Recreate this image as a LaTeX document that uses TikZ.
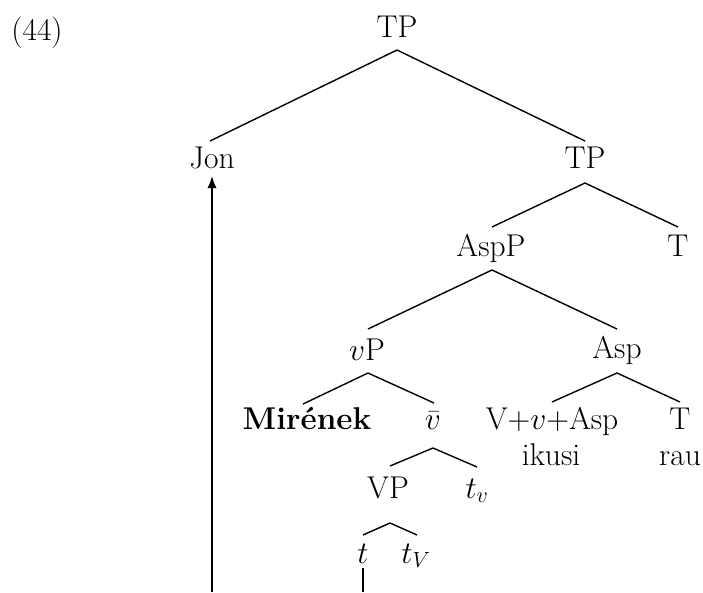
\RequirePackage{fix-cm}
\documentclass[tikz,border=0pt]{standalone}
\usetikzlibrary{arrows.meta}
\begin{document}
\begin{tikzpicture}[x=1pt,y=-1pt,
  every node/.style={font=\fontsize{31.5}{36}\selectfont, inner sep=0pt, anchor=base},
  branch/.style={line width=1.4pt},
  movearrow/.style={line width=1.4pt, -{Latex[length=12pt,width=9pt]}}]
\useasboundingbox (0,0) rectangle (703,592);
% nodes (x = centre, y = baseline, in pixels from the top left)
\node (ex) at (37,40) {(44)};
\node (tp0) at (397,37) {TP};
\node (jon) at (212,168) {Jon};
\node (tp1) at (585,168) {TP};
\node (aspp) at (491,256) {AspP};
\node (t1) at (678,256) {T};
\node (vp) at (367,360) {$v$P};
\node (asp) at (617,358) {Asp};
\node (mir) at (307,429) {\textbf{Mirének}};
\node (vbar) at (433,429) {$\bar{v}$};
\node (vva) at (552,429) {V+$v$+Asp};
\node (t2) at (680,429) {T};
\node (ikusi) at (551,465) {ikusi};
\node (rau) at (680,465) {rau};
\node (vpp) at (388,498) {VP};
\node (tv) at (477,498) {$t_v$};
\node (t) at (363,563) {$t$};
\node (tV) at (416,563) {$t_V$};
\coordinate (arrowfoot) at (212,592);
\coordinate (tfoot) at (363,592);
% branches
\draw[branch] ([yshift=-13pt]tp0.base) -- ([xshift=-2pt,yshift=27pt]jon.base);
\draw[branch] ([yshift=-13pt]tp0.base) -- ([yshift=27pt]tp1.base);
\draw[branch] ([yshift=-15pt]tp1.base) -- ([xshift=1pt,yshift=29pt]aspp.base);
\draw[branch] ([yshift=-15pt]tp1.base) -- ([yshift=29pt]t1.base);
\draw[branch] ([xshift=1pt,yshift=-14pt]aspp.base) -- ([xshift=1pt,yshift=31pt]vp.base);
\draw[branch] ([xshift=1pt,yshift=-14pt]aspp.base) -- ([yshift=29pt]asp.base);
\draw[branch] ([xshift=1pt,yshift=-13pt]vp.base) -- ([xshift=-4pt,yshift=25pt]mir.base);
\draw[branch] ([xshift=1pt,yshift=-13pt]vp.base) -- ([xshift=1pt,yshift=26pt]vbar.base);
\draw[branch] ([yshift=-15pt]asp.base) -- ([yshift=27pt]vva.base);
\draw[branch] ([yshift=-15pt]asp.base) -- ([yshift=27pt]t2.base);
\draw[branch] ([yshift=-19pt]vbar.base) -- ([xshift=2pt,yshift=32pt]vpp.base);
\draw[branch] ([yshift=-19pt]vbar.base) -- ([yshift=31pt]tv.base);
\draw[branch] ([xshift=2pt,yshift=-25pt]vpp.base) -- ([yshift=28pt]t.base);
\draw[branch] ([xshift=2pt,yshift=-25pt]vpp.base) -- ([xshift=1pt,yshift=28pt]tV.base);
\draw[branch] ([yshift=-5pt]t.base) -- (tfoot);
\draw[movearrow] (arrowfoot) -- ([yshift=-8pt]jon.base);
\end{tikzpicture}
\end{document}
